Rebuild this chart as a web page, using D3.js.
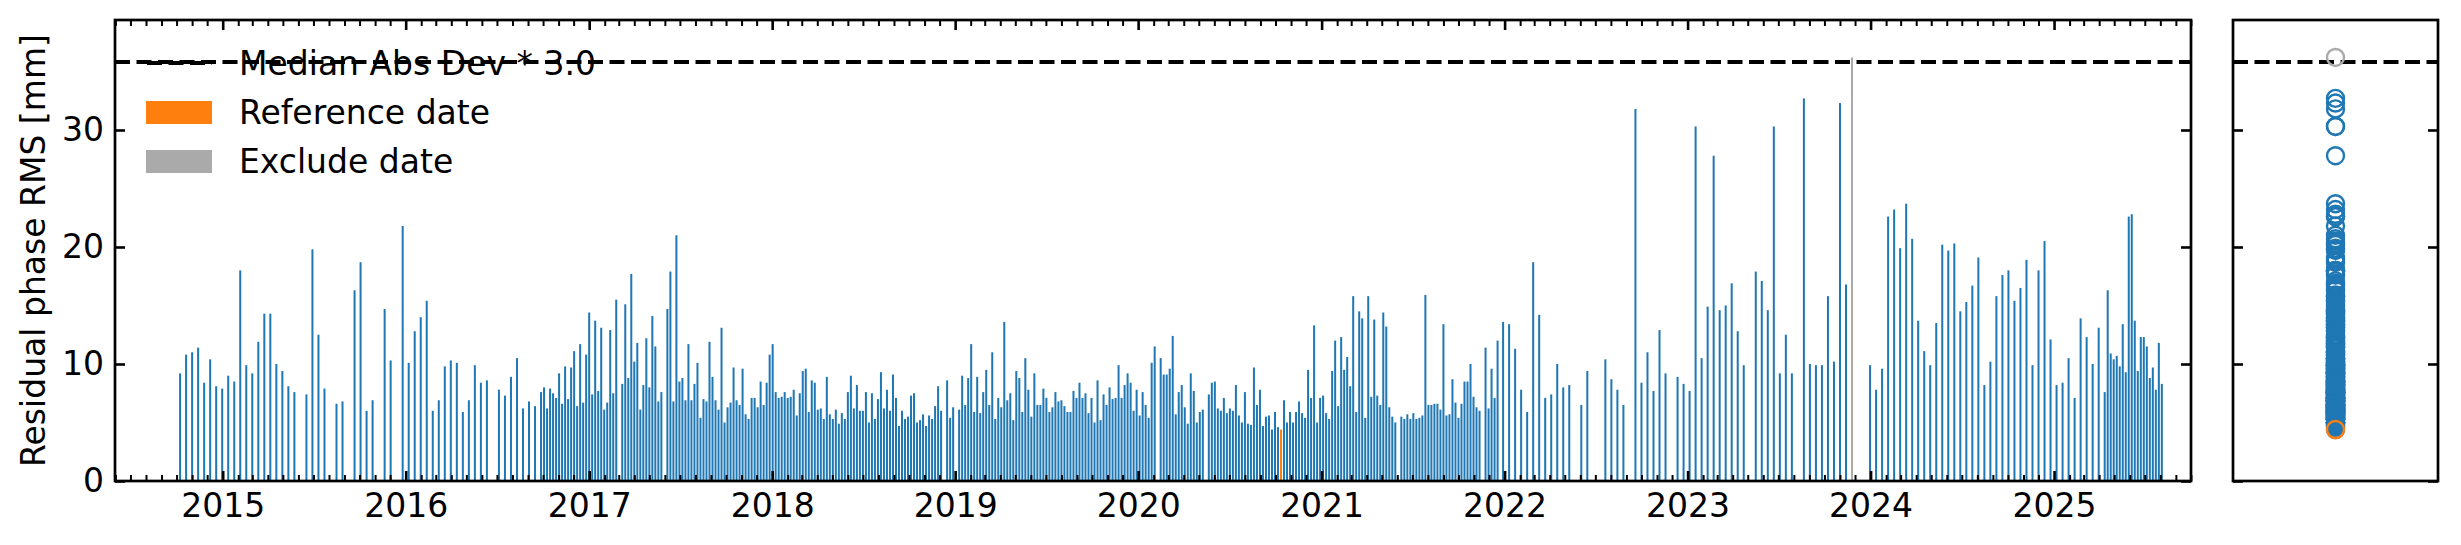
<!DOCTYPE html>
<html><head><meta charset="utf-8">
<script src="https://cdn.jsdelivr.net/npm/d3@7"></script>
<style>
body{margin:0;background:#fff;}
svg{display:block;font-family:"DejaVu Sans",sans-serif;}
</style>
</head><body>
<svg id="c" width="2461" height="545"></svg>
<script>
// ---------------- DATA ----------------
const yearTicks = [2015,2016,2017,2018,2019,2020,2021,2022,2023,2024,2025];
const yTicks = [0,10,20,30];
const yLabel = "Residual phase RMS [mm]";
const legendLabels = ["Median Abs Dev * 3.0","Reference date","Exclude date"];
const madThreshold = 35.8;
const referenceDates = ["2020-10-12"];
const excludeDates = ["2023-11-25"];

// acquisition segments (start date, revisit days) with values read per acquisition (null = no acquisition)
const seg1Start = "2014-10-08", seg1Step = 12;
const seg1Values = [9.2,10.8,11.0,11.4,8.4,10.4,8.1,7.9,9.0,8.5,
18.0,9.9,9.2,11.9,14.3,14.3,10.0,9.4,8.1,7.6,
null,7.4,19.8,12.5,7.9,null,6.6,6.8,null,16.3,
18.7,6.0,6.9,null,14.7,10.3,null,21.8,10.1,12.8,
14.0,15.4,6.0,6.9,9.8,10.3,10.1,5.9,6.9,9.9,
8.4,8.6,null,7.8,7.3,8.9,10.5,6.2,6.8,6.4];

const seg2Start = "2016-09-27", seg2Step = 6;
const seg2Values = [7.6,8.0,6.2,7.9,7.5,7.1,9.2,6.6,9.8,7.0,
9.7,11.1,6.4,11.7,6.7,10.8,14.4,7.4,13.7,7.7,
13.1,6.1,6.7,12.9,7.5,15.5,null,8.3,15.1,8.8,
17.7,10.2,11.8,6.1,8.2,12.2,8.0,14.1,11.5,6.8,
7.6,null,14.7,17.9,6.8,21.0,8.5,8.8,6.9,11.7,
6.9,8.3,10.1,5.4,7.0,6.8,11.9,8.9,6.9,6.1,
13.1,5.0,6.3,6.7,9.7,6.9,6.5,9.6,5.7,5.3,
7.1,7.1,6.3,8.5,6.5,8.4,10.8,11.7,7.6,7.1,
7.2,7.6,7.1,7.2,7.8,5.6,7.5,9.4,9.6,5.9,
8.6,8.4,6.1,6.2,5.3,8.9,5.7,5.3,6.1,4.9,
5.8,5.3,7.6,9.0,6.2,8.2,6.0,6.0,7.6,5.0,
7.5,5.3,7.0,9.3,6.2,7.8,6.0,9.1,7.1,4.7,
6.0,5.3,5.5,7.3,7.5,5.0,5.2,5.7,4.7,5.6,
5.3,6.4,8.1,6.0,null,8.6,5.4,6.3,null,6.1,
9.0,6.5,8.8,11.7,5.9,8.9,5.8,7.6,9.5,6.5,
11.0,5.3,7.1,6.3,13.6,6.9,7.5,5.2,9.4,8.8,
5.9,10.5,7.8,5.5,9.2,6.5,6.5,7.9,7.1,5.9,
6.3,7.6,6.8,6.9,6.4,5.9,5.9,7.7,7.1,8.4,
7.1,7.5,5.8,7.1,5.0,8.6,5.2,7.4,6.5,8.0,
7.0,7.1,9.9,7.1,8.2,9.2,8.4,6.0,7.8,5.6,
7.6,6.5,5.4,10.1,11.5,null,10.5,9.1,9.1,9.6,
12.4,5.7,7.6,8.2,6.3,4.9,9.2,7.7,5.0,5.9,
6.1,null,7.4,8.4,8.5,6.2,6.0,7.1,5.8,6.2,
6.0,8.2,5.6,5.0,7.6,4.9,4.8,9.7,6.5,7.8,
4.7,5.5,5.6,4.4,5.9,4.6,4.4,6.9,5.0,5.9,
5.0,5.9,6.8,5.8,5.4,9.5,7.1,13.3,5.0,7.1,
7.3,5.8,5.3,9.4,12.0,6.4,12.3,9.5,10.6,8.1,
15.8,5.9,14.5,13.9,5.4,15.8,7.2,13.8,7.3,6.5,
14.4,13.2,6.3,5.5,5.0,null,5.5,5.3,5.7,5.3,
5.8,5.3,5.4,5.6,15.9,6.5,6.5,6.6,6.6,6.1,
13.4,5.6,5.7,8.7,6.7,5.4,6.6,8.5,8.5,10.0,
7.2,6.3,6.0,null,11.4,6.2,9.6,7.1,12.0];

const seg3Start = "2021-12-29", seg3Step = 12;
const seg3Values = [13.6,13.4,11.3,7.8,5.9,18.7,14.2,7.1,7.4,10.0,
8.0,8.2,null,6.5,9.4,null,null,10.4,8.7,7.8,
6.5,null,31.8,8.4,11.0,7.7,12.9,9.2,null,8.9,
8.3,7.7,30.3,10.5,14.9,27.8,14.6,15.0,16.9,12.8,
9.9,null,17.9,17.1,14.6,30.3,9.2,12.5,9.2,null,
32.7,10.0,9.9,9.9,15.8,10.2,32.3,16.8,36.2,null,
null,9.9,7.8,9.6,22.6,23.2,19.9,23.7,20.7,13.7,
11.1,9.9,13.5,20.2,19.7,20.3,14.5,15.3,16.7,19.1,
8.2,10.2,15.8,17.6,18.0,15.4,16.5,18.9,9.9,18.0,
20.5,12.1,8.2,8.4,10.5,7.1,13.9,12.3,10.0,13.1];

const seg4Start = "2025-04-12", seg4Step = 6;
const seg4Values = [7.6,16.3,10.9,10.4,10.7,9.8,13.4,9.3,22.6,22.8,
13.7,9.4,12.3,12.3,11.5,8.8,9.7,7.8,11.8,8.3];

// ---------------- BUILD ----------------
const parse = s => new Date(s + "T00:00:00Z");
const segments = [
  [seg1Start, seg1Step, seg1Values],
  [seg2Start, seg2Step, seg2Values],
  [seg3Start, seg3Step, seg3Values],
  [seg4Start, seg4Step, seg4Values]
];
const fmt = d3.utcFormat("%Y-%m-%d");
const bars = [];
segments.forEach(([start, step, vals]) => {
  const s = parse(start);
  vals.forEach((v, i) => {
    if (v == null) return;
    const d = d3.utcDay.offset(s, i * step);
    const key = fmt(d);
    const kind = referenceDates.includes(key) ? "ref" : (excludeDates.includes(key) ? "exc" : "norm");
    bars.push({date: d, value: v, kind});
  });
});

const C = {norm: "#1f77b4", ref: "#ff7f0e", exc: "#aaaaaa"};
const FS = 33;
const box = {l: 115, r: 2191, t: 20, b: 481};
const box2 = {l: 2233, r: 2438};

const x = d3.scaleUtc()
  .domain([new Date(Date.UTC(2014,4,31,4)), new Date(Date.UTC(2025,9,1,4))])
  .range([box.l, box.r]);
const y = d3.scaleLinear().domain([0, 39.4]).range([box.b, box.t]);

const svg = d3.select("#c");
svg.append("rect").attr("width",2461).attr("height",545).attr("fill","#fff");

const defs = svg.append("defs");
defs.append("clipPath").attr("id","clipA").append("rect")
  .attr("x",box.l).attr("y",box.t).attr("width",box.r-box.l).attr("height",box.b-box.t);
defs.append("clipPath").attr("id","clipB").append("rect")
  .attr("x",box2.l).attr("y",box.t).attr("width",box2.r-box2.l).attr("height",box.b-box.t);

// ---------------- MAIN PANEL ----------------
const gA = svg.append("g").attr("clip-path","url(#clipA)");
const halfW = 2; // days
const order = {norm:0, ref:1, exc:2};
const sorted = bars.slice().sort((a,b)=>order[a.kind]-order[b.kind]);
gA.selectAll("rect.bar").data(sorted).join("rect")
  .attr("class","bar")
  .attr("x", d => x(d3.utcDay.offset(d.date, -halfW)))
  .attr("width", d => x(d3.utcDay.offset(d.date, halfW)) - x(d3.utcDay.offset(d.date, -halfW)))
  .attr("y", d => y(d.value))
  .attr("height", d => y(0) - y(d.value))
  .attr("fill", d => C[d.kind]);

gA.append("line")
  .attr("x1", box.l).attr("x2", box.r)
  .attr("y1", y(madThreshold)).attr("y2", y(madThreshold))
  .attr("stroke","#000").attr("stroke-width",4).attr("stroke-dasharray","15 6.5");

// axes
const years = yearTicks.map(yr => new Date(Date.UTC(yr,0,1)));
const months = d3.utcMonth.range(x.domain()[0], x.domain()[1]).filter(d => d.getUTCMonth() !== 0);

function styleAxis(g, w) {
  g.select(".domain").remove();
  g.selectAll(".tick line").attr("stroke","#000").attr("stroke-width", w);
  g.selectAll("text").attr("font-size", FS).attr("fill","#000").attr("font-family","DejaVu Sans, sans-serif");
}

svg.append("g").attr("transform",`translate(0,${box.b})`)
  .call(d3.axisBottom(x).tickValues(months).tickSize(-6).tickFormat(""))
  .call(g => styleAxis(g, 2));
svg.append("g").attr("transform",`translate(0,${box.t})`)
  .call(d3.axisTop(x).tickValues(months).tickSize(-6).tickFormat(""))
  .call(g => styleAxis(g, 2));
svg.append("g").attr("transform",`translate(0,${box.b})`)
  .call(d3.axisBottom(x).tickValues(years).tickSize(-10).tickPadding(13).tickFormat(d3.utcFormat("%Y")))
  .call(g => styleAxis(g, 2.6));
svg.append("g").attr("transform",`translate(0,${box.t})`)
  .call(d3.axisTop(x).tickValues(years).tickSize(-10).tickFormat(""))
  .call(g => styleAxis(g, 2.6));
svg.append("g").attr("transform",`translate(${box.l},0)`)
  .call(d3.axisLeft(y).tickValues(yTicks).tickSize(-10).tickPadding(11).tickFormat(d3.format("d")))
  .call(g => styleAxis(g, 2.6));
svg.append("g").attr("transform",`translate(${box.r},0)`)
  .call(d3.axisRight(y).tickValues(yTicks).tickSize(-10).tickFormat(""))
  .call(g => styleAxis(g, 2.6));

svg.append("rect").attr("x",box.l).attr("y",box.t)
  .attr("width",box.r-box.l).attr("height",box.b-box.t)
  .attr("fill","none").attr("stroke","#000").attr("stroke-width",2.7);

svg.append("text")
  .attr("transform",`translate(45,${(box.t+box.b)/2}) rotate(-90)`)
  .attr("text-anchor","middle")
  .attr("font-size",FS).attr("fill","#000").text(yLabel);

// legend
const lg = svg.append("g");
const rowY = [63, 112.5, 161.5];
lg.append("line").attr("x1",147).attr("x2",212).attr("y1",rowY[0]).attr("y2",rowY[0])
  .attr("stroke","#000").attr("stroke-width",4).attr("stroke-dasharray","15 6.5");
lg.append("rect").attr("x",146).attr("y",rowY[1]-11.5).attr("width",66).attr("height",23).attr("fill",C.ref);
lg.append("rect").attr("x",146).attr("y",rowY[2]-11.5).attr("width",66).attr("height",23).attr("fill",C.exc);
legendLabels.forEach((t,i) => {
  lg.append("text").attr("x",239).attr("y",rowY[i]).attr("dy","0.36em")
    .attr("font-size",FS).attr("fill","#000").text(t);
});

// ---------------- SIDE PANEL ----------------
const xs = d3.scalePoint().domain(["all"]).range([box2.l, box2.r]).padding(0.5);
const gB = svg.append("g").attr("clip-path","url(#clipB)");
gB.append("line")
  .attr("x1", box2.l).attr("x2", box2.r)
  .attr("y1", y(madThreshold)).attr("y2", y(madThreshold))
  .attr("stroke","#000").attr("stroke-width",4).attr("stroke-dasharray","15 6.5");
gB.selectAll("circle").data(sorted).join("circle")
  .attr("cx", xs("all")).attr("cy", d => y(d.value)).attr("r", 8.5)
  .attr("fill","none").attr("stroke", d => C[d.kind]).attr("stroke-width",2.4);

svg.append("g").attr("transform",`translate(${box2.l},0)`)
  .call(d3.axisLeft(y).tickValues(yTicks).tickSize(-10).tickFormat(""))
  .call(g => styleAxis(g, 2.6));
svg.append("g").attr("transform",`translate(${box2.r},0)`)
  .call(d3.axisRight(y).tickValues(yTicks).tickSize(-10).tickFormat(""))
  .call(g => styleAxis(g, 2.6));
svg.append("rect").attr("x",box2.l).attr("y",box.t)
  .attr("width",box2.r-box2.l).attr("height",box.b-box.t)
  .attr("fill","none").attr("stroke","#000").attr("stroke-width",2.7);
</script>
</body></html>
